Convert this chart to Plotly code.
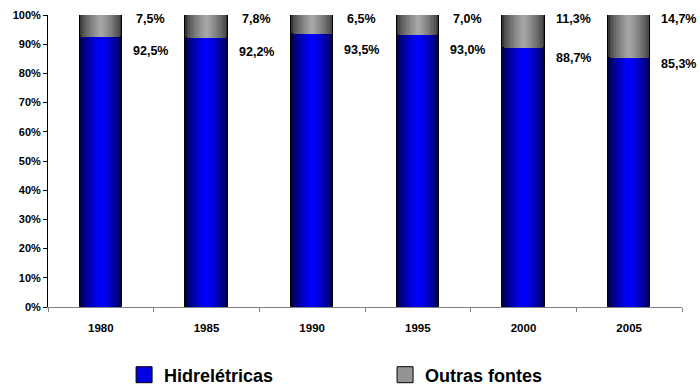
import plotly.graph_objects as go

# Share of electricity generation by source (%)
years = ["1980", "1985", "1990", "1995", "2000", "2005"]
hidreletricas = [92.5, 92.2, 93.5, 93.0, 88.7, 85.3]
outras_fontes = [7.5, 7.8, 6.5, 7.0, 11.3, 14.7]

FONT = "Liberation Sans, Arial, sans-serif"

BAR_W = 0.4
N_LAYERS = 14


def mix(c1, c2, t):
    return "rgb(%d,%d,%d)" % tuple(round(a + (b - a) * t) for a, b in zip(c1, c2))


def shaded_bars(fig, y, base, dark, light, name):
    """Stack of overlaid, progressively narrower bars to fake a cylinder shading."""
    for i in range(N_LAYERS):
        t = i / (N_LAYERS - 1)
        w = BAR_W * (1 - 0.92 * t)
        fig.add_trace(go.Bar(
            x=years, y=y, base=base, width=w,
            marker=dict(color=mix(dark, light, t ** 0.7),
                        line=dict(color="black", width=1 if i == 0 else 0)),
            showlegend=False, hoverinfo="skip",
        ))
    # legend key: a larger square swatch
    fig.add_trace(go.Scatter(
        x=[None], y=[None], mode="markers", name=name,
        marker=dict(symbol="square", size=17, color=mix(dark, light, 0.85),
                    line=dict(color="black", width=1)),
        hoverinfo="skip",
    ))


fig = go.Figure()
shaded_bars(fig, hidreletricas, [0] * len(years), (0, 0, 70), (0, 0, 255), "Hidrelétricas")
shaded_bars(fig, outras_fontes, hidreletricas, (55, 55, 55), (165, 165, 165), "Outras fontes")


def pct(v):
    return f"{v:.1f}%".replace(".", ",")


for i, (h, o) in enumerate(zip(hidreletricas, outras_fontes)):
    fig.add_annotation(x=i + 0.47, y=98.5, text=f"<b>{pct(o)}</b>", showarrow=False,
                       font=dict(family=FONT, size=12.5, color="black"))
    fig.add_annotation(x=i + 0.47, y=h - 0.38 * (h - 85.3) - 2.2, text=f"<b>{pct(h)}</b>",
                       showarrow=False, font=dict(family=FONT, size=12.5, color="black"))

fig.update_layout(
    width=700, height=389,
    margin=dict(l=48, r=18, t=15, b=82, autoexpand=False),
    paper_bgcolor="white", plot_bgcolor="white",
    barmode="overlay", bargap=0,
    showlegend=True,
    legend=dict(orientation="h", x=0.12, xanchor="left",
                yref="container", y=0.036, yanchor="middle",
                font=dict(family=FONT, size=18, color="black", weight="bold"),
                entrywidth=216, entrywidthmode="pixels", traceorder="normal",
                itemsizing="trace"),
    xaxis=dict(type="category", tickson="boundaries", ticks="outside", ticklen=4,
               tickcolor="#808080", showline=True, linecolor="#808080", linewidth=1,
               showgrid=False, range=[-0.5, 5.5], ticklabelstandoff=10,
               tickfont=dict(family=FONT, size=11.5, color="black", weight="bold")),
    yaxis=dict(range=[0, 100], dtick=10, ticksuffix="%", ticks="outside", ticklen=4,
               tickcolor="black", showline=True, linecolor="black", linewidth=1,
               showgrid=False, zeroline=False,
               tickfont=dict(family=FONT, size=11, color="black", weight="bold")),
)

fig.write_html("out.html")
